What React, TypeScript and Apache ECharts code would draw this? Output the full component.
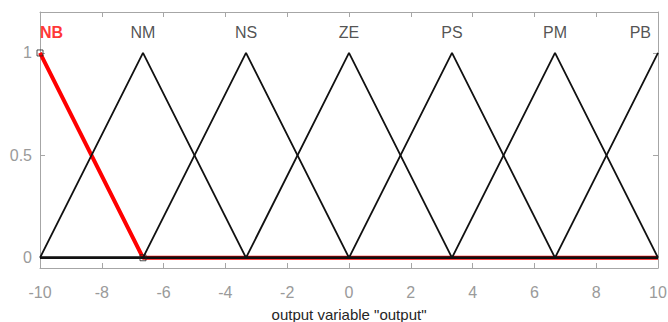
import React, { useEffect, useRef } from "react";
import * as echarts from "echarts";

const mfNames = ["NB", "NM", "NS", "ZE", "PS", "PM", "PB"];
// trimf parameters [a, b, c]
const mfParams: number[][] = [
  [-13.33, -10, -6.667],
  [-10, -6.667, -3.333],
  [-6.667, -3.333, 0],
  [-3.333, 0, 3.333],
  [0, 3.333, 6.667],
  [3.333, 6.667, 10],
  [6.667, 10, 13.33],
];
const xRange = [-10, 10];
const yTicks = [0, 0.5, 1];
const labelY = 1.1;
const xLabel = 'output variable "output"';

const AXIS_GREY = "#a6a6a6";
const LABEL_GREY = "#9a9a9a";
const FONT = "Liberation Sans, Arial, sans-serif";

function mfPoints(p: number[]): number[][] {
  const [a, b, c] = p;
  const pts: number[][] = [];
  const xs = [xRange[0], a, b, c, xRange[1]]
    .filter((x) => x >= xRange[0] && x <= xRange[1])
    .sort((m, n) => m - n);
  const uniq = xs.filter((x, i) => i === 0 || x !== xs[i - 1]);
  for (const x of uniq) {
    let y = 0;
    if (x > a && x <= b) y = (x - a) / (b - a);
    else if (x > b && x < c) y = (c - x) / (c - b);
    if (x === b) y = 1;
    pts.push([x, y]);
  }
  return pts;
}

export default function App() {
  const ref = useRef<HTMLDivElement>(null);
  useEffect(() => {
    if (!ref.current) return;
    const chart = echarts.init(ref.current, null, { renderer: "svg" });
    const series: any[] = [];
    mfNames.forEach((name, i) => {
      const red = i === 0;
      series.push({
        type: "line",
        name,
        data: mfPoints(mfParams[i]),
        symbol: "none",
        z: red ? 2 : 3,
        lineStyle: { color: red ? "#ff0000" : "#111111", width: red ? 4 : 1.8 },
        silent: true,
      });
    });
    // vertex markers for selected MF (NB)
    const nb = mfParams[0];
    series.push({
      type: "scatter",
      data: [
        [nb[1], 1],
        [nb[2], 0],
      ],
      symbol: "rect",
      symbolSize: 6,
      itemStyle: { color: "rgba(0,0,0,0)", borderColor: "#222", borderWidth: 1 },
      z: 5,
      silent: true,
    });
    // MF labels
    series.push({
      type: "scatter",
      symbolSize: 0,
      z: 6,
      silent: true,
      data: mfNames.map((name, i) => ({
        value: [mfParams[i][1], labelY],
        name,
        label: {
          show: true,
          formatter: name,
          position: i === 0 ? "right" : i === mfNames.length - 1 ? "left" : "inside",
          distance: i === 0 ? 0 : i === mfNames.length - 1 ? 7 : 0,
          color: i === 0 ? "#ff0000" : "#262626",
          fontWeight: i === 0 ? "bold" : "normal",
          fontSize: 16,
          fontFamily: FONT,
        },
      })),
    });

    chart.setOption({
      animation: false,
      backgroundColor: "#ffffff",
      grid: { left: 40, right: 10, top: 12, bottom: 54, outerBoundsMode: "none", containLabel: false },
      xAxis: [
        {
          type: "value",
          min: -10,
          max: 10,
          interval: 2,
          position: "bottom",
          axisLine: { show: true, onZero: false, lineStyle: { color: AXIS_GREY, width: 1 } },
          axisTick: { show: true, inside: true, length: 5, lineStyle: { color: AXIS_GREY } },
          axisLabel: { color: LABEL_GREY, fontSize: 16, fontFamily: FONT, margin: 16 },
          splitLine: { show: false },
          name: xLabel,
          nameLocation: "middle",
          nameGap: 39,
          nameTextStyle: { color: "#262626", fontSize: 15, fontFamily: FONT },
        },
        {
          type: "value",
          min: -10,
          max: 10,
          interval: 2,
          position: "top",
          axisLine: { show: true, onZero: false, lineStyle: { color: AXIS_GREY, width: 1 } },
          axisTick: { show: true, inside: true, length: 5, lineStyle: { color: AXIS_GREY } },
          axisLabel: { show: false },
          splitLine: { show: false },
        },
      ],
      yAxis: [
        {
          type: "value",
          min: -0.05,
          max: 1.2,
          position: "left",
          axisLine: { show: true, onZero: false, lineStyle: { color: AXIS_GREY, width: 1 } },
          axisTick: { show: true, inside: true, length: 5, customValues: yTicks, lineStyle: { color: AXIS_GREY } },
          axisLabel: { color: LABEL_GREY, fontSize: 16, fontFamily: FONT, customValues: yTicks, margin: 8 },
          splitLine: { show: false },
        },
        {
          type: "value",
          min: -0.05,
          max: 1.2,
          position: "right",
          axisLine: { show: true, onZero: false, lineStyle: { color: AXIS_GREY, width: 1 } },
          axisTick: { show: true, inside: true, length: 5, customValues: yTicks, lineStyle: { color: AXIS_GREY } },
          axisLabel: { show: false },
          splitLine: { show: false },
        },
      ],
      series,
    });
    return () => chart.dispose();
  }, []);
  return (
    <div
      ref={ref}
      style={{ width: 668, height: 322, position: "absolute", left: 0, top: 0 }}
    />
  );
}
